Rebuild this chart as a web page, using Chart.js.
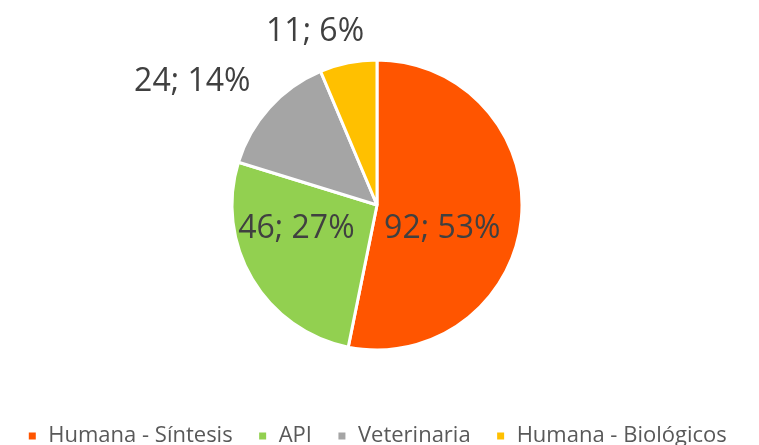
<!DOCTYPE html>
<html lang="es">
<head>
    <meta charset="UTF-8">
    <title>Distribución</title>
    <script src="https://cdn.jsdelivr.net/npm/chart.js"></script>
    <style>
        html, body { margin: 0; padding: 0; background: #fff; }
        #wrap { width: 759px; height: 445px; position: relative; }
    </style>
</head>
<body>
    <div id="wrap"><canvas id="pie-chart"></canvas></div>
    <script>
        var categories = ['Humana - Síntesis', 'API', 'Veterinaria', 'Humana - Biológicos'];
        var values = [92, 46, 24, 11];
        var colors = ['#FF5500', '#92D050', '#A5A5A5', '#FFC000'];
        var fontFamily = '"Open Sans", Carlito, Calibri, sans-serif';

        // where each label sits: share of the radius and turn (degrees) from the slice middle
        var labelPlace = [[0.48, 14.6], [0.58, 14], [1.53, -8.5], [1.27, -8.2]];

        var sliceLabels = {
            id: 'sliceLabels',
            afterDatasetsDraw: function(chart) {
                var ctx = chart.ctx;
                var meta = chart.getDatasetMeta(0);
                var total = values.reduce(function(a, b) { return a + b; }, 0);
                ctx.save();
                ctx.font = '32px ' + fontFamily;
                ctx.fillStyle = '#404040';
                ctx.textAlign = 'center';
                ctx.textBaseline = 'middle';
                meta.data.forEach(function(arc, i) {
                    var p = arc.getProps(['x', 'y', 'startAngle', 'endAngle', 'outerRadius'], true);
                    var mid = (p.startAngle + p.endAngle) / 2 + labelPlace[i][1] * Math.PI / 180;
                    var r = p.outerRadius * labelPlace[i][0];
                    var txt = values[i] + '; ' + Math.round(values[i] / total * 100) + '%';
                    ctx.fillText(txt, p.x + Math.cos(mid) * r, p.y + Math.sin(mid) * r);
                });
                ctx.restore();
            }
        };

        var ctx = document.getElementById('pie-chart').getContext('2d');
        new Chart(ctx, {
            type: 'pie',
            data: {
                labels: categories,
                datasets: [{
                    data: values,
                    backgroundColor: colors,
                    borderColor: '#ffffff',
                    borderWidth: 3
                }]
            },
            options: {
                responsive: true,
                maintainAspectRatio: false,
                animation: false,
                radius: 145,
                layout: { padding: { top: 10, bottom: -12, left: 0, right: 5 } },
                plugins: {
                    tooltip: { enabled: false },
                    legend: {
                        position: 'bottom',
                        labels: {
                            boxWidth: 10,
                            boxHeight: 10,
                            padding: 25,
                            color: '#595959',
                            font: { size: 22, family: fontFamily, lineHeight: 1 }
                        }
                    }
                }
            },
            plugins: [sliceLabels]
        });
    </script>
</body>
</html>
